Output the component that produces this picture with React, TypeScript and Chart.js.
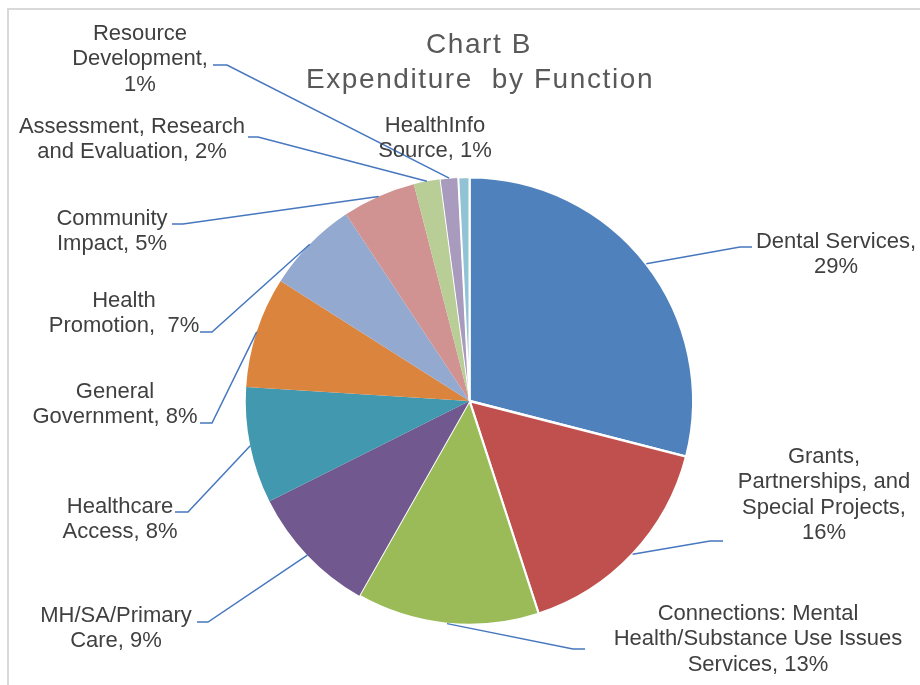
import React, { useEffect, useRef } from "react";
import { Chart, registerables } from "chart.js";

Chart.register(...registerables);

const categories = [
  "Dental Services",
  "Grants, Partnerships, and Special Projects",
  "Connections: Mental Health/Substance Use Issues Services",
  "MH/SA/Primary Care",
  "Healthcare Access",
  "General Government",
  "Health Promotion",
  "Community Impact",
  "Assessment, Research and Evaluation",
  "Resource Development",
  "HealthInfo Source",
];
const shares = [29.0, 16.0, 13.2, 9.4, 8.4, 8.0, 6.7, 5.3, 1.9, 1.3, 0.8];
const sliceColors = [
  "#4F81BD", "#C0504D", "#9BBB59", "#71588F", "#4198AF", "#DB843D",
  "#93A9CF", "#D19392", "#B9CD96", "#A99BBD", "#92C3D5",
];
const sliceBorders = [2.5, 2.5, 2, 0, 0, 0, 0, 0, 0, 1, 2];
const titleLines = ["Chart B", "Expenditure  by Function"];

// label layout (styling): wrapped lines, centre x, first baseline, leader (text side, elbow)
const labelLines = [
  ["Dental Services,", "{p}"],
  ["Grants,", "Partnerships, and", "Special Projects,", "{p}"],
  ["Connections: Mental", "Health/Substance Use Issues", "Services, {p}"],
  ["MH/SA/Primary", "Care, {p}"],
  ["Healthcare", "Access, {p}"],
  ["General", "Government, {p}"],
  ["Health", "Promotion,  {p}"],
  ["Community", "Impact, {p}"],
  ["Assessment, Research", "and Evaluation, {p}"],
  ["Resource", "Development,", "{p}"],
  ["HealthInfo", "Source, {p}"],
];
const labelPos: [number, number][] = [
  [836, 248], [824, 463], [758, 620], [116, 622], [120, 513], [115, 398],
  [124, 307], [112, 225], [132, 133], [140, 40], [435, 132],
];
const leaders: ([number, number][] | null)[] = [
  [[752, 247], [740, 247]],
  [[723, 541], [710, 541]],
  [[585, 649], [573, 649]],
  [[197, 622], [208, 622]],
  [[175, 512], [188, 512]],
  [[200, 423], [212, 423]],
  [[200, 332], [212, 332]],
  [[172, 224], [183, 224]],
  [[248, 137], [258, 137]],
  [[213, 65], [227, 65]],
  null,
];

const overlay = {
  id: "overlay",
  afterDraw(chart: any) {
    const ctx = chart.ctx as CanvasRenderingContext2D;
    ctx.save();
    // frame
    ctx.fillStyle = "#D9D9D9";
    ctx.fillRect(7, 8, 2, 685);
    ctx.fillRect(7, 8, 913, 2);
    // title
    ctx.fillStyle = "#595959";
    ctx.font = "28px 'Liberation Sans', Arial, sans-serif";
    (ctx as any).letterSpacing = "1.6px";
    ctx.textAlign = "center";
    ctx.textBaseline = "alphabetic";
    ctx.fillText(titleLines[0], 479, 53);
    ctx.fillText(titleLines[1], 480, 88);
    (ctx as any).letterSpacing = "0px";
    // leaders
    const meta = chart.getDatasetMeta(0);
    ctx.strokeStyle = "#4677BF";
    ctx.lineWidth = 1.5;
    meta.data.forEach((arc: any, i: number) => {
      const l = leaders[i];
      if (!l) return;
      const mid = (arc.startAngle + arc.endAngle) / 2;
      const ax = arc.x + Math.cos(mid) * arc.outerRadius;
      const ay = arc.y + Math.sin(mid) * arc.outerRadius;
      ctx.beginPath();
      ctx.moveTo(l[0][0], l[0][1]);
      ctx.lineTo(l[1][0], l[1][1]);
      ctx.lineTo(ax, ay);
      ctx.stroke();
    });
    // labels
    ctx.fillStyle = "#404040";
    ctx.font = "22px 'Liberation Sans', Arial, sans-serif";
    const total = shares.reduce((a, b) => a + b, 0);
    labelLines.forEach((lines, i) => {
      const pct = Math.round((shares[i] / total) * 100) + "%";
      lines.forEach((t, k) => {
        ctx.fillText(t.replace("{p}", pct), labelPos[i][0], labelPos[i][1] + k * 25.3);
      });
    });
    ctx.restore();
  },
};

export default function App() {
  const ref = useRef<HTMLCanvasElement>(null);
  useEffect(() => {
    if (!ref.current) return;
    const chart = new Chart(ref.current, {
      type: "pie",
      data: {
        labels: categories,
        datasets: [
          {
            data: shares,
            backgroundColor: sliceColors,
            borderColor: "#FFFFFF",
            borderWidth: sliceBorders,
          },
        ],
      },
      options: {
        responsive: false,
        animation: false,
        layout: { padding: { top: 176, bottom: 59, left: 244.5, right: 225.5 } },
        plugins: {
          legend: { display: false },
          tooltip: { enabled: false },
          title: { display: false },
        },
      },
      plugins: [overlay],
    });
    return () => chart.destroy();
  }, []);
  return (
    <div style={{ position: "fixed", left: 0, top: 0, width: 920, height: 685, background: "#fff" }}>
      <canvas ref={ref} width={920} height={685} style={{ display: "block" }} />
    </div>
  );
}
